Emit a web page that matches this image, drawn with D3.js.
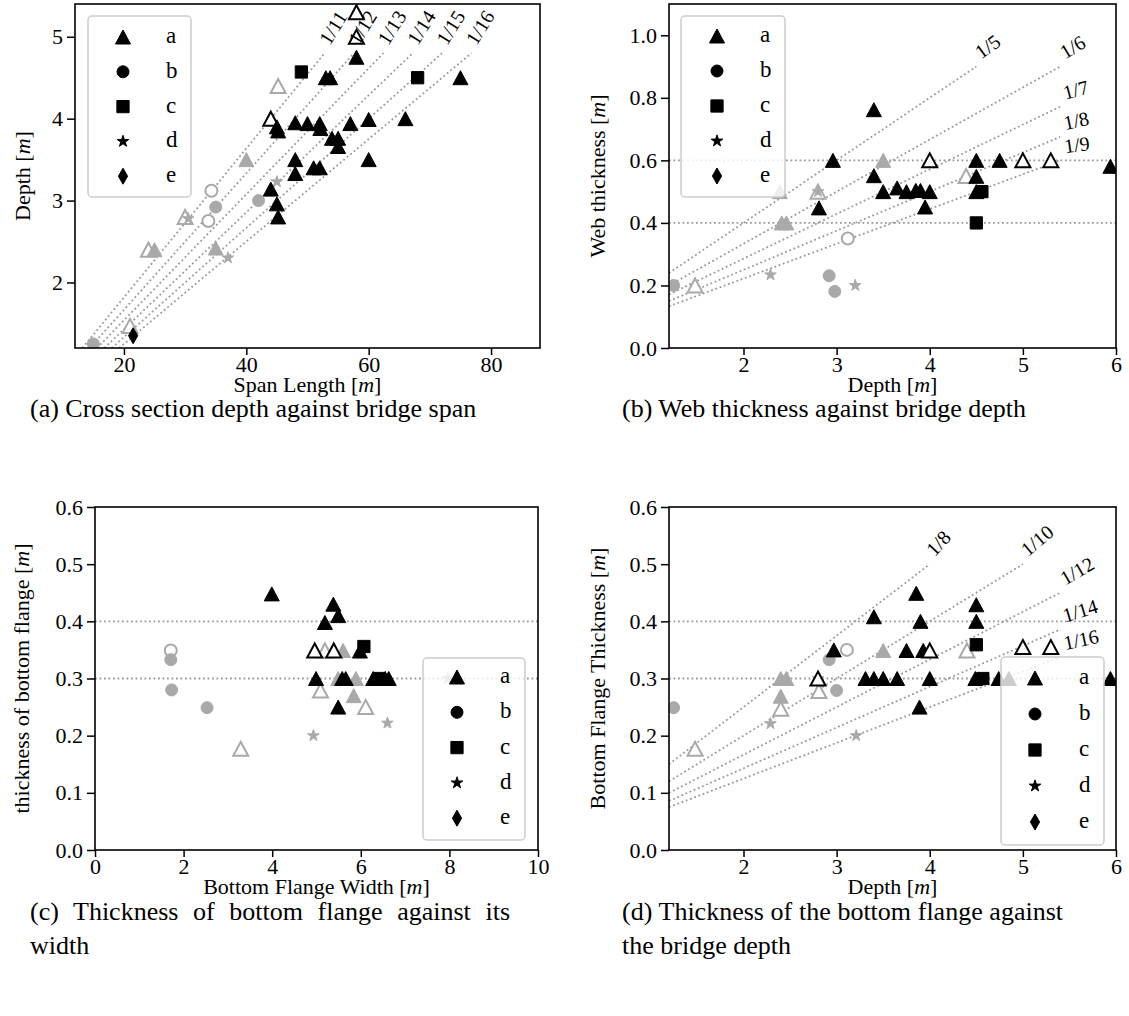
<!DOCTYPE html>
<html>
<head>
<meta charset="utf-8">
<style>
  body { margin: 0; background: #fff; }
  svg { font-family: 'Liberation Serif', 'DejaVu Serif', serif; }
  .tick line { stroke: #000; stroke-width: 1.5; }
  .axis-label { font-size: 22px; }
  .caption { font-size: 26px; }
  .legend text { font-size: 23px; }
  .ratio-label { font-size: 20px; }
</style>
</head>
<body>
<svg width="1129" height="1016"></svg>

<script src="https://d3js.org/d3.v7.min.js"></script>
<script>
// ---- data --------------------------------------------------------------
// series: a triangle, b circle, c square, d star, e diamond
const seriesNames = ['a', 'b', 'c', 'd', 'e'];

// [x, y, series, colour ('k' black / 'g' grey), filled (1) or open (0)]
const spanDepth = [
  [15, 1.25, 'b', 'g', 1], [21, 1.47, 'a', 'g', 0], [24, 2.4, 'a', 'g', 0],
  [25, 2.4, 'a', 'g', 1], [30, 2.8, 'a', 'g', 0], [30.5, 2.78, 'd', 'g', 1],
  [35, 2.42, 'a', 'g', 1], [37, 2.3, 'd', 'g', 1], [34.3, 3.12, 'b', 'g', 0],
  [35, 2.92, 'b', 'g', 1], [33.8, 2.75, 'b', 'g', 0], [40, 3.5, 'a', 'g', 1],
  [42, 3.0, 'b', 'g', 1], [45, 3.23, 'd', 'g', 1], [45.2, 4.4, 'a', 'g', 0],
  [21.5, 1.35, 'e', 'k', 1], [44, 4.0, 'a', 'k', 0], [45, 3.9, 'a', 'k', 1],
  [45.2, 3.85, 'a', 'k', 1], [44, 3.14, 'a', 'k', 1], [45, 2.96, 'a', 'k', 1],
  [45.2, 2.8, 'a', 'k', 1], [48, 3.95, 'a', 'k', 1], [48, 3.5, 'a', 'k', 1],
  [48, 3.33, 'a', 'k', 1], [49, 4.57, 'c', 'k', 1], [58, 5.3, 'a', 'k', 0],
  [58, 5.0, 'a', 'k', 0], [58, 4.75, 'a', 'k', 1], [53, 4.5, 'a', 'k', 1],
  [53.7, 4.5, 'a', 'k', 1], [68, 4.5, 'c', 'k', 1], [75, 4.5, 'a', 'k', 1],
  [50, 3.94, 'a', 'k', 1], [52, 3.94, 'a', 'k', 1], [52.1, 3.88, 'a', 'k', 1],
  [57, 3.94, 'a', 'k', 1], [60, 3.99, 'a', 'k', 1], [66, 4.0, 'a', 'k', 1],
  [54, 3.76, 'a', 'k', 1], [55, 3.76, 'a', 'k', 1], [55, 3.66, 'a', 'k', 1],
  [60, 3.5, 'a', 'k', 1], [51, 3.4, 'a', 'k', 1], [52, 3.4, 'a', 'k', 1]
];

const depthWeb = [
  [1.25, 0.2, 'b', 'g', 1], [1.48, 0.2, 'a', 'g', 0], [2.29, 0.234, 'd', 'g', 1],
  [2.39, 0.5, 'a', 'g', 1], [2.41, 0.4, 'a', 'g', 1], [2.46, 0.4, 'a', 'g', 1],
  [2.8, 0.5, 'a', 'g', 0], [2.8, 0.5, 'd', 'g', 1], [2.92, 0.231, 'b', 'g', 1],
  [2.98, 0.181, 'b', 'g', 1], [3.12, 0.35, 'b', 'g', 0], [3.5, 0.6, 'a', 'g', 1],
  [4.39, 0.55, 'a', 'g', 0], [3.2, 0.2, 'd', 'g', 1],
  [2.81, 0.448, 'a', 'k', 1], [2.96, 0.6, 'a', 'k', 1], [3.4, 0.762, 'a', 'k', 1],
  [4.0, 0.6, 'a', 'k', 0], [4.5, 0.6, 'a', 'k', 1], [4.75, 0.6, 'a', 'k', 1],
  [5.0, 0.6, 'a', 'k', 0], [5.3, 0.6, 'a', 'k', 0], [5.94, 0.581, 'a', 'k', 1],
  [3.4, 0.551, 'a', 'k', 1], [4.5, 0.549, 'a', 'k', 1], [3.5, 0.5, 'a', 'k', 1],
  [3.65, 0.512, 'a', 'k', 1], [3.75, 0.5, 'a', 'k', 1], [3.85, 0.504, 'a', 'k', 1],
  [3.9, 0.504, 'a', 'k', 1], [4.0, 0.5, 'a', 'k', 1], [3.95, 0.451, 'a', 'k', 1],
  [4.5, 0.5, 'a', 'k', 1], [4.56, 0.5, 'c', 'k', 1], [4.5, 0.4, 'c', 'k', 1]
];

const flangeWidthThk = [
  [1.71, 0.349, 'b', 'g', 0], [1.71, 0.333, 'b', 'g', 1], [1.73, 0.28, 'b', 'g', 1],
  [2.53, 0.249, 'b', 'g', 1], [3.29, 0.177, 'a', 'g', 0], [5.19, 0.349, 'a', 'g', 0],
  [5.6, 0.349, 'a', 'g', 1], [5.49, 0.3, 'a', 'g', 1], [5.89, 0.3, 'a', 'g', 1],
  [5.09, 0.279, 'a', 'g', 0], [5.84, 0.27, 'a', 'g', 1], [6.11, 0.25, 'a', 'g', 0],
  [6.6, 0.222, 'd', 'g', 1], [4.93, 0.2, 'd', 'g', 1], [7.97, 0.3, 'd', 'g', 1],
  [3.99, 0.448, 'a', 'k', 1], [5.38, 0.43, 'a', 'k', 1], [5.49, 0.41, 'a', 'k', 1],
  [5.19, 0.398, 'a', 'k', 1], [4.96, 0.349, 'a', 'k', 0], [5.39, 0.349, 'a', 'k', 0],
  [6.07, 0.356, 'c', 'k', 1], [5.98, 0.348, 'a', 'k', 1], [4.99, 0.3, 'a', 'k', 1],
  [5.58, 0.3, 'a', 'k', 1], [5.66, 0.3, 'a', 'k', 1], [6.28, 0.3, 'a', 'k', 1],
  [6.42, 0.3, 'c', 'k', 1], [6.55, 0.3, 'a', 'k', 1], [6.63, 0.3, 'a', 'k', 1],
  [5.49, 0.25, 'a', 'k', 1]
];

const depthFlangeThk = [
  [1.25, 0.249, 'b', 'g', 1], [1.48, 0.177, 'a', 'g', 0], [2.4, 0.3, 'a', 'g', 1],
  [2.46, 0.3, 'a', 'g', 1], [2.4, 0.269, 'a', 'g', 1], [2.4, 0.247, 'a', 'g', 0],
  [2.29, 0.221, 'd', 'g', 1], [2.81, 0.278, 'a', 'g', 0], [3.0, 0.279, 'b', 'g', 1],
  [2.92, 0.333, 'b', 'g', 1], [3.11, 0.35, 'b', 'g', 0], [3.5, 0.349, 'a', 'g', 1],
  [4.4, 0.349, 'a', 'g', 0], [3.21, 0.2, 'd', 'g', 1], [2.8, 0.3, 'd', 'g', 1],
  [2.8, 0.3, 'a', 'k', 0], [2.97, 0.35, 'a', 'k', 1], [3.855, 0.449, 'a', 'k', 1],
  [3.4, 0.408, 'a', 'k', 1], [3.9, 0.4, 'a', 'k', 1], [4.5, 0.429, 'a', 'k', 1],
  [4.5, 0.4, 'a', 'k', 1], [4.5, 0.359, 'c', 'k', 1], [3.75, 0.349, 'a', 'k', 1],
  [3.93, 0.349, 'a', 'k', 1], [4.0, 0.349, 'a', 'k', 0], [5.0, 0.355, 'a', 'k', 0],
  [5.3, 0.355, 'a', 'k', 0], [3.31, 0.3, 'a', 'k', 1], [3.4, 0.3, 'a', 'k', 1],
  [3.5, 0.3, 'a', 'k', 1], [3.65, 0.3, 'a', 'k', 1], [4.0, 0.3, 'a', 'k', 1],
  [4.49, 0.3, 'a', 'k', 1], [4.57, 0.3, 'c', 'k', 1], [4.74, 0.3, 'a', 'k', 1],
  [4.85, 0.3, 'a', 'k', 1], [5.94, 0.3, 'a', 'k', 1], [3.89, 0.25, 'a', 'k', 1]
];

// ratio guide lines (1/n)
const ratiosA = [11, 12, 13, 14, 15, 16];   // depth = span / n, depth 1.2 .. 4.8
const ratiosB = [5, 6, 7, 8, 9];            // web = depth / n, up to 0.9 or depth 5.4
const ratiosD = [8, 10, 12, 14, 16];        // flange = depth / n, up to 0.5 or depth 5.4
const hLinesB = [0.6, 0.4];
const hLinesC = [0.4, 0.3];
const hLinesD = [0.4, 0.3];

// ticks
const ticksAx = [20, 40, 60, 80], ticksAy = [2, 3, 4, 5];
const ticksBx = [2, 3, 4, 5, 6], ticksBy = [0, 0.2, 0.4, 0.6, 0.8, 1.0];
const ticksCx = [0, 2, 4, 6, 8, 10], ticksCy = [0, 0.1, 0.2, 0.3, 0.4, 0.5, 0.6];
const ticksDx = [2, 3, 4, 5, 6], ticksDy = [0, 0.1, 0.2, 0.3, 0.4, 0.5, 0.6];

// ---- drawing -----------------------------------------------------------
const svg = d3.select('svg');
const colours = { k: '#000', g: '#a9a9a9' };
const guideColour = '#999';

function markerPath(s) {
  if (s === 'a') return 'M0,-7L7.5,7L-7.5,7Z';
  if (s === 'e') return 'M0,-8L4.6,0L0,8L-4.6,0Z';
  if (s === 'b') return d3.symbol(d3.symbolCircle, 113)();
  if (s === 'c') return d3.symbol(d3.symbolSquare, 150)();
  return d3.symbol(d3.symbolStar, 42)();
}

// "Depth [m]" -> m in italics
function mathLabel(sel, str) {
  const parts = str.split(/\[m\]/);
  sel.append('tspan').text(parts[0] + '[');
  sel.append('tspan').attr('font-style', 'italic').text('m');
  sel.append('tspan').text(']');
}

let clipId = 0;
function panel(cfg) {
  const g = svg.append('g');
  const x = d3.scaleLinear().domain(cfg.xDomain).range([cfg.left, cfg.right]);
  const y = d3.scaleLinear().domain(cfg.yDomain).range([cfg.bottom, cfg.top]);

  const id = 'clip' + (clipId++);
  svg.append('clipPath').attr('id', id).append('rect')
    .attr('x', cfg.left).attr('y', cfg.top)
    .attr('width', cfg.right - cfg.left).attr('height', cfg.bottom - cfg.top);
  const plot = g.append('g').attr('clip-path', `url(#${id})`);

  const line = d3.line().x(d => x(d[0])).y(d => y(d[1]));
  const dotted = s => s.attr('fill', 'none').attr('stroke', guideColour)
    .attr('stroke-width', 1.8).attr('stroke-dasharray', '1.8,2.7');

  // horizontal guide lines
  plot.selectAll('.hline').data(cfg.hLines || []).join('path')
    .attr('d', v => line([[cfg.xDomain[0], v], [cfg.xDomain[1], v]]))
    .call(dotted);

  // ratio guide lines
  const ratios = cfg.ratios || [];
  plot.selectAll('.rline').data(ratios).join('path')
    .attr('d', n => line(cfg.ratioLine(n)))
    .call(dotted);

  g.selectAll('.ratio-label').data(ratios).join('text')
    .attr('class', 'ratio-label')
    .attr('transform', (n, i) => {
      const pts = cfg.ratioLine(n), e = pts[pts.length - 1];
      return `translate(${x(e[0]) + 5},${y(e[1]) - 7}) rotate(${-cfg.labelAngles[i]})`;
    })
    .text(n => '1/' + n);

  // markers
  plot.selectAll('.pt').data(cfg.points).join('path')
    .attr('d', d => markerPath(d[2]))
    .attr('transform', d => `translate(${x(d[0])},${y(d[1])})`)
    .attr('fill', d => d[4] ? colours[d[3]] : '#fff')
    .attr('stroke', d => colours[d[3]])
    .attr('stroke-width', d => d[4] ? 1 : 2);

  // axes
  const xAxis = g.append('g').attr('transform', `translate(0,${cfg.bottom})`)
    .call(d3.axisBottom(x).tickValues(cfg.xTicks).tickFormat(cfg.xFmt)
      .tickSize(7).tickPadding(1));
  const yAxis = g.append('g').attr('transform', `translate(${cfg.left},0)`)
    .call(d3.axisLeft(y).tickValues(cfg.yTicks).tickFormat(cfg.yFmt)
      .tickSize(8).tickPadding(4));
  [xAxis, yAxis].forEach(a => {
    a.attr('font-family', null).attr('font-size', 22);
    a.select('.domain').remove();
    a.selectAll('.tick text').attr('fill', '#000');
  });

  g.append('rect')
    .attr('x', cfg.left).attr('y', cfg.top)
    .attr('width', cfg.right - cfg.left).attr('height', cfg.bottom - cfg.top)
    .attr('fill', 'none').attr('stroke', '#000').attr('stroke-width', 1.6);

  // axis titles
  g.append('text').attr('class', 'axis-label')
    .attr('x', (cfg.left + cfg.right) / 2).attr('y', cfg.bottom + 44)
    .attr('text-anchor', 'middle').call(mathLabel, cfg.xLabel);
  g.append('text').attr('class', 'axis-label')
    .attr('transform', `translate(${cfg.yLabelX},${(cfg.top + cfg.bottom) / 2}) rotate(-90)`)
    .attr('text-anchor', 'middle').call(mathLabel, cfg.yLabel);

  // legend
  const L = cfg.legend;
  const leg = g.append('g').attr('class', 'legend');
  leg.append('rect')
    .attr('x', L.x).attr('y', L.y).attr('width', L.w).attr('height', L.h)
    .attr('rx', 4).attr('fill', '#fff').attr('fill-opacity', 0.8)
    .attr('stroke', '#cccccc').attr('stroke-width', 1.5);
  const rows = leg.selectAll('.row').data(seriesNames).join('g')
    .attr('transform', (d, i) => `translate(0,${L.y0 + i * L.dy})`);
  rows.append('path').attr('d', d => markerPath(d))
    .attr('transform', `translate(${L.mx},0)`).attr('fill', '#000')
    .attr('stroke', '#000').attr('stroke-width', 1);
  rows.append('text').attr('x', L.lx).attr('y', 6).text(d => d);

  // caption (first line of a two-line caption is justified to the column width)
  cfg.caption.forEach((c, i) => {
    const t = g.append('text').attr('class', 'caption')
      .attr('x', cfg.capX).attr('y', cfg.capY + i * 34).text(c);
    if (cfg.capWidth && i === 0 && cfg.caption.length > 1) {
      const spaces = c.split(' ').length - 1;
      const extra = cfg.capWidth - t.node().getComputedTextLength();
      if (extra > 0) t.attr('word-spacing', extra / spaces);
    }
  });
}

const intFmt = d3.format('d'), oneFmt = d3.format('.1f');

panel({
  left: 75, right: 540, top: 4, bottom: 348,
  xDomain: [12, 88], yDomain: [1.2, 5.4],
  xTicks: ticksAx, yTicks: ticksAy, xFmt: intFmt, yFmt: intFmt,
  points: spanDepth,
  ratios: ratiosA,
  ratioLine: n => [[1.2 * n, 1.2], [4.8 * n, 4.8]],
  labelAngles: [58, 58, 58, 58, 58, 58],
  xLabel: 'Span Length [m]', yLabel: 'Depth [m]', yLabelX: 30,
  legend: { x: 88, y: 16, w: 103, h: 181, mx: 123, lx: 166, y0: 37, dy: 34.8 },
  caption: ['(a) Cross section depth against bridge span'], capX: 30, capY: 417
});

panel({
  left: 669, right: 1116, top: 4, bottom: 348,
  xDomain: [1.2, 6], yDomain: [0, 1.1],
  xTicks: ticksBx, yTicks: ticksBy, xFmt: intFmt, yFmt: oneFmt,
  points: depthWeb,
  hLines: hLinesB,
  ratios: ratiosB,
  ratioLine: n => [[1.2, 1.2 / n], [Math.min(5.4, 0.9 * n), Math.min(5.4, 0.9 * n) / n]],
  labelAngles: [36, 31, 15, 12, 8],
  xLabel: 'Depth [m]', yLabel: 'Web thickness [m]', yLabelX: 605,
  legend: { x: 681, y: 16, w: 104, h: 181, mx: 717, lx: 760, y0: 36, dy: 35 },
  caption: ['(b) Web thickness against bridge depth'], capX: 622, capY: 417
});

panel({
  left: 95, right: 538, top: 507, bottom: 850,
  xDomain: [0, 10], yDomain: [0, 0.6],
  xTicks: ticksCx, yTicks: ticksCy, xFmt: intFmt, yFmt: oneFmt,
  points: flangeWidthThk,
  hLines: hLinesC,
  xLabel: 'Bottom Flange Width [m]', yLabel: 'thickness of bottom flange [m]', yLabelX: 29,
  legend: { x: 423, y: 658, w: 102, h: 182, mx: 457, lx: 500, y0: 677, dy: 35.3 },
  caption: ['(c) Thickness of bottom flange against its', 'width'], capX: 30, capY: 920,
  capWidth: 480
});

panel({
  left: 669, right: 1116, top: 507, bottom: 850,
  xDomain: [1.2, 6], yDomain: [0, 0.6],
  xTicks: ticksDx, yTicks: ticksDy, xFmt: intFmt, yFmt: oneFmt,
  points: depthFlangeThk,
  hLines: hLinesD,
  ratios: ratiosD,
  ratioLine: n => [[1.2, 1.2 / n], [Math.min(5.4, 0.5 * n), Math.min(5.4, 0.5 * n) / n]],
  labelAngles: [47, 40, 30, 17, 12],
  xLabel: 'Depth [m]', yLabel: 'Bottom Flange Thickness [m]', yLabelX: 605,
  legend: { x: 1001, y: 657, w: 103, h: 188, mx: 1035, lx: 1079, y0: 678, dy: 36 },
  caption: ['(d) Thickness of the bottom flange against', 'the bridge depth'], capX: 622, capY: 920,
  capWidth: 441
});
</script>
</body>
</html>
